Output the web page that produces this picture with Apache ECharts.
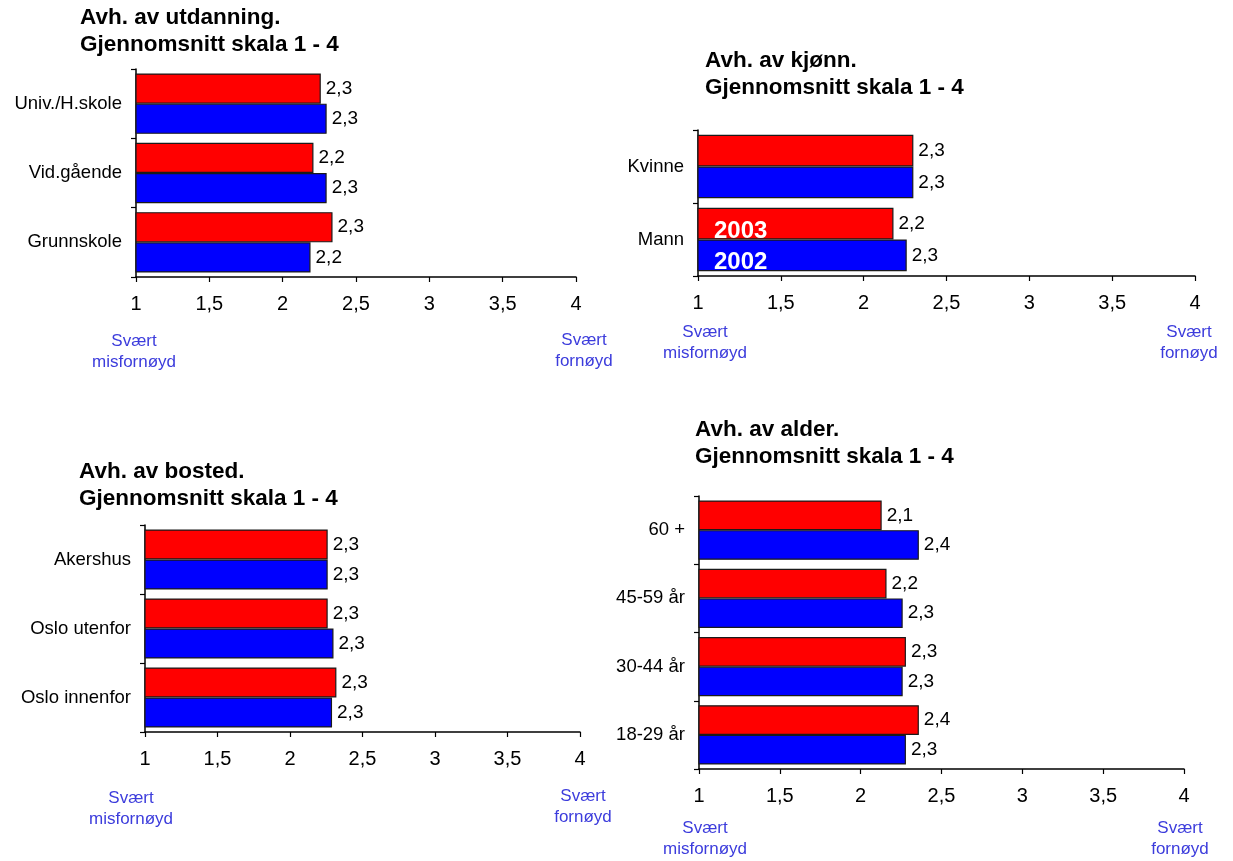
<!DOCTYPE html>
<html>
<head>
<meta charset="utf-8">
<script src="https://cdn.jsdelivr.net/npm/echarts@6/dist/echarts.min.js"></script>
<style>
  html, body { margin: 0; padding: 0; background: #fff; }
  #chart { width: 1233px; height: 861px; }
</style>
</head>
<body>
<div id="chart"></div>
<script>
// Mean satisfaction, scale 1 - 4, 2003 vs 2002
const eduCats = ['Univ./H.skole', 'Vid.gående', 'Grunnskole'];
const edu2003 = [2.26, 2.21, 2.34];
const edu2002 = [2.30, 2.30, 2.19];

const sexCats = ['Kvinne', 'Mann'];
const sex2003 = [2.30, 2.18];
const sex2002 = [2.30, 2.26];

const placeCats = ['Akershus', 'Oslo utenfor', 'Oslo innenfor'];
const place2003 = [2.26, 2.26, 2.32];
const place2002 = [2.26, 2.30, 2.29];

const ageCats = ['60 +', '45-59 år', '30-44 år', '18-29 år'];
const age2003 = [2.13, 2.16, 2.28, 2.36];
const age2002 = [2.36, 2.26, 2.26, 2.28];

const yearNames = ['2003', '2002'];
const titles = [
  'Avh. av utdanning.\nGjennomsnitt skala 1 - 4',
  'Avh. av kjønn.\nGjennomsnitt skala 1 - 4',
  'Avh. av bosted.\nGjennomsnitt skala 1 - 4',
  'Avh. av alder.\nGjennomsnitt skala 1 - 4'
];
const lowEnd = 'Svært\nmisfornøyd';
const highEnd = 'Svært\nfornøyd';

const FONT = "'Liberation Sans', Arial, Helvetica, sans-serif";
const RED = '#ff0000';
const BLUE = '#0000ff';
const SCALE_BLUE = '#3c3cdc';

const panels = [
  { cats: eduCats,   a: edu2003,   b: edu2002,   grid: { left: 136, top: 69,  width: 440, height: 208 } },
  { cats: sexCats,   a: sex2003,   b: sex2002,   grid: { left: 698, top: 130, width: 497, height: 146 } },
  { cats: placeCats, a: place2003, b: place2002, grid: { left: 145, top: 525, width: 435, height: 207 } },
  { cats: ageCats,   a: age2003,   b: age2002,   grid: { left: 699, top: 496, width: 485, height: 273 } }
];

const fmtValue = v => (Math.round(v * 10) / 10).toFixed(1).replace('.', ',');

const grids = [], xAxes = [], yAxes = [], series = [];
panels.forEach((p, i) => {
  grids.push(Object.assign({ containLabel: false }, p.grid));
  xAxes.push({
    type: 'value', gridIndex: i, min: 1, max: 4, interval: 0.5,
    axisLine: { show: true, lineStyle: { color: '#000', width: 1.5 } },
    axisTick: { show: true, inside: false, length: 5, lineStyle: { color: '#000', width: 1.2 } },
    splitLine: { show: false },
    axisLabel: {
      margin: 17, color: '#000', fontSize: 20, fontFamily: FONT,
      formatter: v => String(v).replace('.', ',')
    }
  });
  yAxes.push({
    type: 'category', gridIndex: i, data: p.cats, inverse: true,
    axisLine: { show: true, lineStyle: { color: '#000', width: 1.5 } },
    axisTick: { show: true, inside: false, length: 5, lineStyle: { color: '#000', width: 1.2 } },
    axisLabel: { margin: 14, color: '#000', fontSize: 18.5, fontFamily: FONT }
  });
  [[p.a, RED], [p.b, BLUE]].forEach(([vals, col], k) => {
    series.push({
      type: 'bar', name: yearNames[k], xAxisIndex: i, yAxisIndex: i,
      data: vals, barGap: '0%', barCategoryGap: '13%',
      itemStyle: { color: col, borderColor: '#1a1a1a', borderWidth: 1.2 },
      label: {
        show: true, position: 'right', distance: 5,
        color: '#000', fontSize: 19, fontFamily: FONT,
        formatter: d => fmtValue(d.value)
      },
      animation: false
    });
  });
});

const titleTops = [4, 47, 458, 416];
const titleLefts = [80, 705, 79, 695];
const title = titles.map((t, i) => ({
  text: t, left: titleLefts[i], top: titleTops[i], padding: 0,
  textStyle: { fontSize: 22.5, fontWeight: 'bold', fontFamily: FONT, color: '#000', lineHeight: 27 }
}));

function scaleNote(text, x, y) {
  return {
    type: 'text', x: x, y: y, silent: true,
    style: {
      text: text, fill: SCALE_BLUE, fontSize: 17, fontFamily: FONT,
      align: 'center', verticalAlign: 'middle', lineHeight: 21
    }
  };
}
function yearTag(text, x, y) {
  return {
    type: 'text', x: x, y: y, silent: true, z: 100,
    style: {
      text: text, fill: '#fff', fontSize: 24, fontWeight: 'bold', fontFamily: FONT,
      align: 'left', verticalAlign: 'middle'
    }
  };
}

const graphic = [
  scaleNote(lowEnd, 134, 352), scaleNote(highEnd, 584, 351),
  scaleNote(lowEnd, 705, 343), scaleNote(highEnd, 1189, 343),
  scaleNote(lowEnd, 131, 809), scaleNote(highEnd, 583, 807),
  scaleNote(lowEnd, 705, 839), scaleNote(highEnd, 1180, 839),
  yearTag(yearNames[0], 714, 231), yearTag(yearNames[1], 714, 262)
];

const chart = echarts.init(document.getElementById('chart'), null, { renderer: 'canvas' });
chart.setOption({
  backgroundColor: '#fff',
  animation: false,
  title: title,
  grid: grids,
  xAxis: xAxes,
  yAxis: yAxes,
  series: series,
  graphic: graphic
});
</script>
</body>
</html>
